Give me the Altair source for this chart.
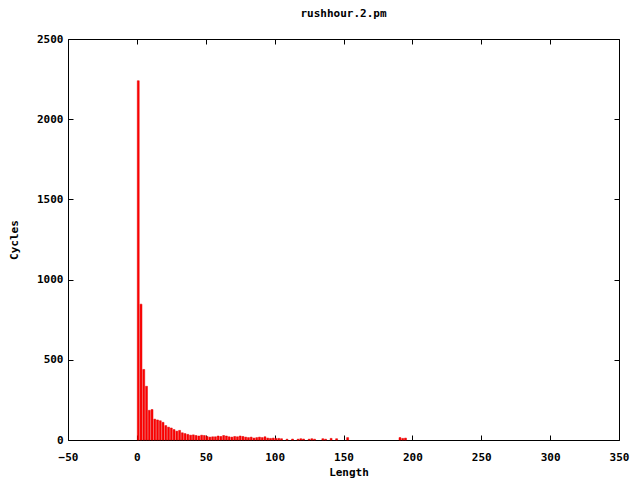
import altair as alt
import pandas as pd

# Histogram of cycle lengths (bin centre) and number of cycles
lengths = [1, 3, 5, 7, 9, 11, 13, 15, 17, 19, 21, 23, 25, 27, 29, 31, 33, 35, 37, 39,
           41, 43, 45, 47, 49, 51, 53, 55, 57, 59, 61, 63, 65, 67, 69, 71, 73, 75, 77, 79,
           81, 83, 85, 87, 89, 91, 93, 95, 97, 99, 101, 103, 105, 109, 113, 117, 119, 121,
           125, 127, 129, 135, 137, 141, 145, 153, 191, 193, 195]
cycles = [2240, 847, 440, 335, 185, 190, 130, 125, 120, 110, 90, 80, 75, 65, 55, 60, 45, 40, 35, 30,
          32, 28, 25, 30, 28, 22, 18, 20, 20, 25, 22, 28, 25, 20, 18, 22, 20, 25, 22, 18,
          15, 18, 12, 15, 18, 15, 20, 12, 10, 12, 10, 10, 8, 5, 6, 5, 8, 6,
          5, 8, 5, 8, 5, 10, 8, 15, 15, 10, 12]

x_ticks = [-50, 0, 50, 100, 150, 200, 250, 300, 350]
y_ticks = [0, 500, 1000, 1500, 2000, 2500]

df = pd.DataFrame({"length": lengths, "cycles": cycles})

FONT = "DejaVu Sans Mono"
xscale = alt.Scale(domain=[-50, 350], nice=False, zero=False)
yscale = alt.Scale(domain=[0, 2500], nice=False)

common = dict(
    grid=False, domain=False, tickColor="black", tickWidth=1, tickSize=5, offset=-5,
    labelFont=FONT, labelFontSize=11, labelFontWeight="bold", labelColor="black",
    labelFlush=False, labelOverlap=False, format="d",
    titleFont=FONT, titleFontSize=11, titleFontWeight="bold", titleColor="black",
)

base = alt.Chart(df).transform_calculate(
    lo="datum.length - 0.7", hi="datum.length + 0.7"
)

bars = base.mark_bar(color="#ff0000", stroke="#e00000", strokeWidth=0.5).encode(
    x=alt.X("lo:Q", scale=xscale,
            axis=alt.Axis(title="Length", values=x_ticks, labelPadding=11,
                          titleX=280.5, titleY=37, titleBaseline="middle", **common)),
    x2="hi:Q",
    y=alt.Y("cycles:Q", scale=yscale,
            axis=alt.Axis(title="Cycles", values=y_ticks, labelPadding=5,
                          titleX=-59, titleY=200.5, titleBaseline="middle", **common)),
    y2=alt.Y2(datum=0),
)

mirror = base.mark_bar(opacity=0).encode(
    x=alt.X("lo:Q", scale=xscale,
            axis=alt.Axis(orient="top", title="", labels=False, values=x_ticks, **common)),
    x2="hi:Q",
    y=alt.Y("cycles:Q", scale=yscale,
            axis=alt.Axis(orient="right", title="", labels=False, values=y_ticks, **common)),
    y2=alt.Y2(datum=0),
)

chart = alt.layer(bars, mirror).resolve_axis(x="independent", y="independent").properties(
    width=551, height=401,
    title=alt.TitleParams("rushhour.2.pm", font=FONT, fontSize=11, fontWeight="bold",
                          color="black", offset=14),
    autosize=alt.AutoSizeParams(type="none"),
    padding={"left": 60, "top": 31, "right": 13, "bottom": 40},
    background="white",
).configure_view(stroke="black", strokeWidth=1)

chart.save("out.html", embed_options={"renderer": "svg", "actions": False})
